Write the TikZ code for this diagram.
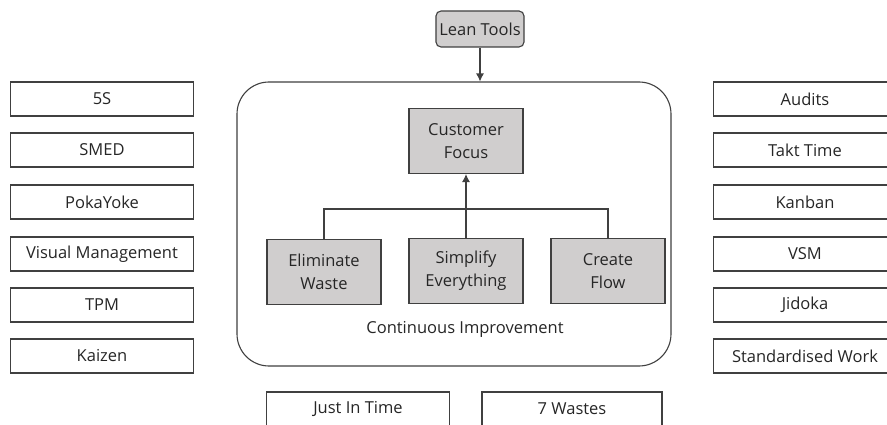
\documentclass[tikz,border=0pt]{standalone}
\usepackage{fontspec}
\setmainfont{Open Sans}
\usetikzlibrary{positioning,arrows.meta}
\definecolor{boxgray}{HTML}{D0CECE}
\definecolor{linegray}{HTML}{404040}
\definecolor{textgray}{HTML}{262626}
\tikzset{
>={Latex[width=2.8mm,length=2.8mm]},
tool/.style={rectangle, draw=linegray, line width=1.1pt, minimum width=183pt, minimum height=34pt,
             text=textgray, font=\fontsize{16.5}{20}\selectfont},
pillar/.style={rectangle, draw=linegray, line width=1.1pt, fill=boxgray, minimum width=114pt, minimum height=65pt,
             text=textgray, align=center, font=\fontsize{16.5}{23}\selectfont},
lean/.style={rectangle, rounded corners=5pt, draw=linegray, line width=1.1pt, fill=boxgray,
             minimum width=87pt, minimum height=36pt, text=textgray, font=\fontsize{16.5}{20}\selectfont},
link/.style={line width=1.1pt, draw=linegray},
}

\begin{document}
\begin{tikzpicture}[x=1pt, y=1pt, align=center]

    \clip (0,0) rectangle (887,-425);
    \fill[white] (0,0) rectangle (887,-425);

    \node[lean] (LEAN) at(480, -29)  {Lean Tools};

    \node[rectangle, rounded corners=32pt, draw=linegray, line width=1.1pt, minimum width=434pt, minimum height=284pt] (CI_BOX) at(454, -224)  {};
    \node[text=textgray, font=\fontsize{16.5}{20}\selectfont] (CI_TEXT) at(465, -329)  {Continuous Improvement};

    \node[pillar] (FOCUS) at(466, -141)  {Customer\\Focus};
    \node[pillar] (WASTE) at(324, -272)  {Eliminate\\Waste};
    \node[pillar] (SIMPLE) at(466, -271)  {Simplify\\Everything};
    \node[pillar] (FLOW) at(608, -271)  {Create\\Flow};
    \coordinate (JOIN) at(466, -209);

    \node[tool] (LEFT_0) at(102, -99)  {5S};
    \node[tool] (LEFT_1) at(102, -150)  {SMED};
    \node[tool] (LEFT_2) at(102, -202)  {PokaYoke};
    \node[tool] (LEFT_3) at(102, -254)  {Visual Management};
    \node[tool] (LEFT_4) at(102, -305)  {TPM};
    \node[tool] (LEFT_5) at(102, -356)  {Kaizen};

    \node[tool] (RIGHT_0) at(805, -99)  {Audits};
    \node[tool] (RIGHT_1) at(805, -150)  {Takt Time};
    \node[tool] (RIGHT_2) at(805, -202)  {Kanban};
    \node[tool] (RIGHT_3) at(805, -254)  {VSM};
    \node[tool] (RIGHT_4) at(805, -305)  {Jidoka};
    \node[tool] (RIGHT_5) at(805, -356)  {Standardised Work};

    \node[tool] (JIT) at(358, -409)  {Just In Time};
    \node[tool, minimum width=180pt] (WASTES) at(572, -409)  {7 Wastes};

    \draw[->, link] (LEAN)  to (LEAN |- CI_BOX.north) ;
    \draw[->, link] (SIMPLE)  to (FOCUS) ;
    \draw[link] (WASTE)  |- (JOIN)  -| (FLOW) ;
\end{tikzpicture}
\end{document}
